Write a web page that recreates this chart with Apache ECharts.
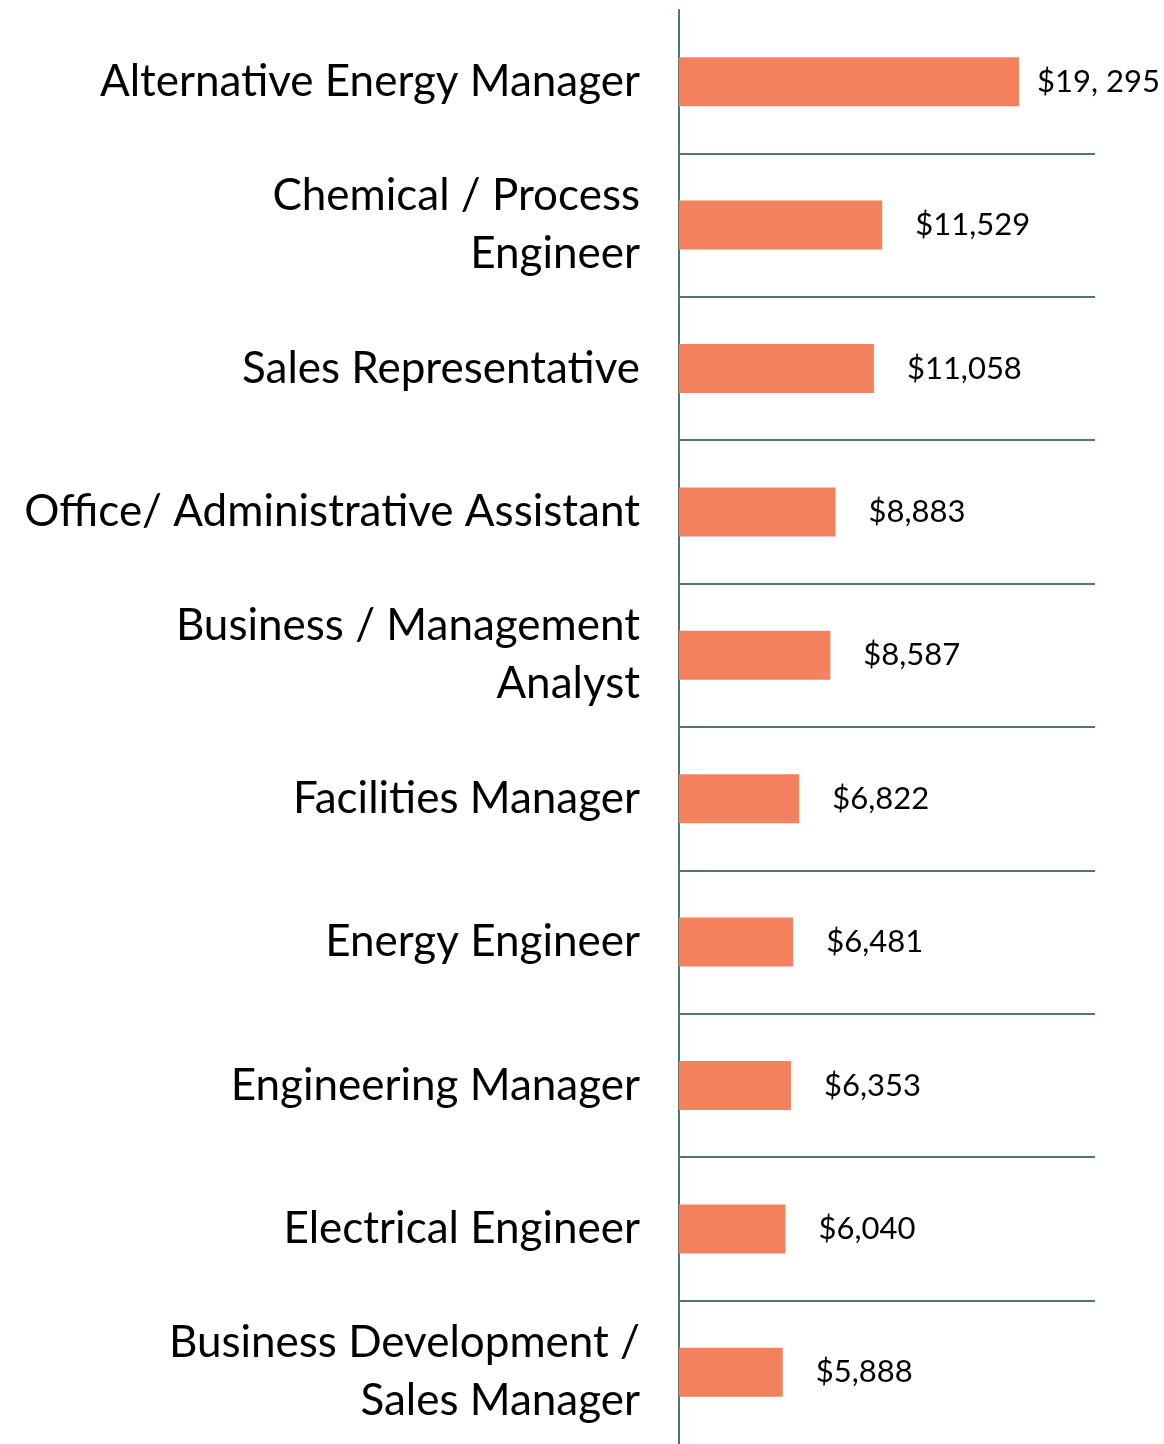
<!DOCTYPE html>
<html lang="en">
<head>
  <meta charset="UTF-8">
  <title>Salaries by role</title>
  <script src="https://cdn.jsdelivr.net/npm/echarts@6/dist/echarts.min.js"></script>
  <style>
    html, body { margin: 0; padding: 0; background: #fff; }
    #chart { width: 1164px; height: 1444px; }
  </style>
</head>
<body>
  <div id="chart"></div>
  <script>
    // roles, top to bottom
    const roles = [
      'Alternative Energy Manager',
      'Chemical / Process\nEngineer',
      'Sales Representative',
      'Office/ Administrative Assistant',
      'Business / Management\nAnalyst',
      'Facilities Manager',
      'Energy Engineer',
      'Engineering Manager',
      'Electrical Engineer',
      'Business Development /\nSales Manager'
    ];
    const amounts = [19295, 11529, 11058, 8883, 8587, 6822, 6481, 6353, 6040, 5888];
    const amountLabels = ['$19, 295', '$11,529', '$11,058', '$8,883', '$8,587', '$6,822', '$6,481', '$6,353', '$6,040', '$5,888'];

    const lineColor = '#4E7676';
    const barColor = '#F4815D';

    // separators only between rows: hide the top and bottom edge lines
    const sepColors = roles.map((_, i) => i === 0 ? 'rgba(0,0,0,0)' : lineColor);
    sepColors.push('rgba(0,0,0,0)');

    const chart = echarts.init(document.getElementById('chart'));
    chart.setOption({
      animation: false,
      grid: { left: 679, right: 69, top: 10, bottom: 0, containLabel: false },
      xAxis: {
        type: 'value',
        min: 0,
        max: 23600,
        show: false
      },
      yAxis: {
        type: 'category',
        data: roles.map(r => r.indexOf('\n') >= 0 ? { value: r, textStyle: { padding: [20, 0, 0, 0] } } : r),
        inverse: true,
        axisLine: { show: true, lineStyle: { color: lineColor, width: 2 } },
        axisTick: { show: false },
        splitLine: {
          show: true,
          lineStyle: { color: sepColors, width: 2 }
        },
        axisLabel: {
          margin: 39,
          fontFamily: 'Lato',
          fontSize: 44,
          lineHeight: 58,
          color: '#000'
        }
      },
      series: [{
        type: 'bar',
        barWidth: 49,
        itemStyle: { color: barColor },
        data: amounts.map((v, i) => ({ value: v, label: { distance: i === 0 ? 18 : 33 } })),
        label: {
          show: true,
          position: 'right',
          fontFamily: 'Lato',
          fontSize: 31,
          color: '#000',
          formatter: (p) => amountLabels[p.dataIndex]
        }
      }]
    });
  </script>
</body>
</html>
